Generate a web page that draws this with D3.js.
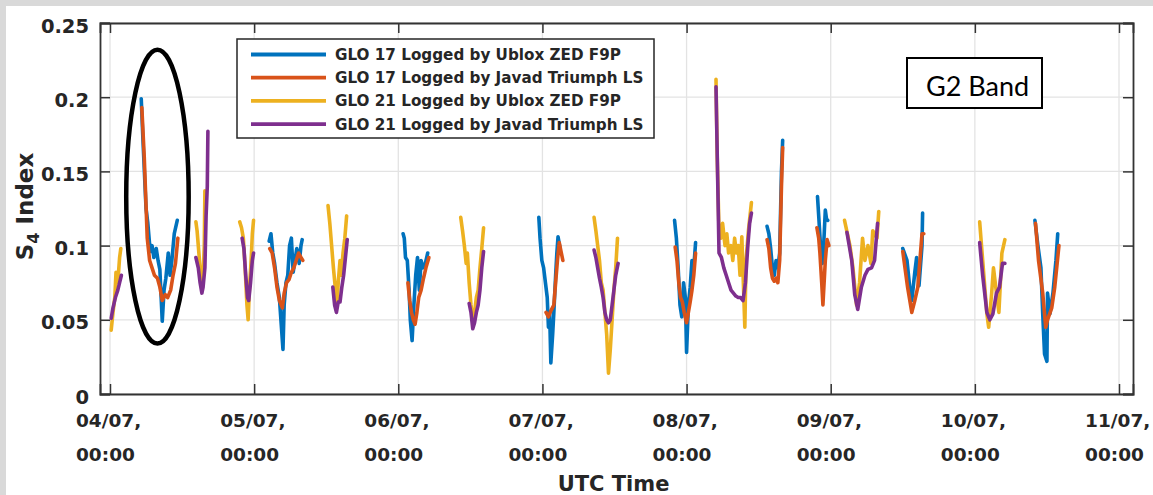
<!DOCTYPE html>
<html>
<head>
<meta charset="utf-8">
<script src="https://cdn.jsdelivr.net/npm/d3@7"></script>
<style>
  html, body { margin: 0; padding: 0; background: #d9d9d9; }
  svg { display: block; }
</style>
</head>
<body>
<svg id="chart" width="1153" height="495"></svg>
<script>
// S4 scintillation index, GLONASS G2 band, two satellites logged by two receivers.
// Each pass is a list of [hours since 04/07 00:00 UTC, S4].

const glo17Ublox = [
  [[5.2,.199],[5.5,.17],[6.0,.125],[6.3,.115],[6.7,.096],[7.0,.1],[7.3,.092],[7.7,.098],[8.0,.09],[8.3,.084],[8.7,.049],[9.0,.07],[9.3,.078],[9.7,.095],[10.0,.08],[10.3,.09],[10.7,.108],[11.2,.117]],
  [[26.5,.103],[26.8,.108],[27.1,.095],[27.4,.088],[27.8,.075],[28.2,.065],[28.8,.03],[29.0,.06],[29.3,.075],[29.6,.08],[29.9,.1],[30.2,.105],[30.5,.082],[30.8,.09],[31.1,.098],[31.5,.088],[31.8,.1],[32.0,.104]],
  [[48.8,.108],[49.0,.105],[49.2,.092],[49.5,.09],[49.8,.07],[50.0,.05],[50.3,.036],[50.6,.06],[50.9,.08],[51.2,.092],[51.5,.07],[51.8,.09],[52.1,.085],[52.5,.088],[52.9,.095]],
  [[71.4,.119],[71.6,.105],[71.9,.09],[72.2,.085],[72.5,.075],[72.8,.065],[73.0,.045],[73.2,.055],[73.4,.021],[73.7,.04],[73.9,.055],[74.2,.08],[74.4,.095],[74.6,.106],[74.9,.099]],
  [[94.0,.117],[94.3,.105],[94.6,.085],[94.9,.06],[95.2,.052],[95.5,.075],[95.8,.065],[96.0,.028],[96.3,.06],[96.6,.072],[96.9,.09],[97.2,.085],[97.5,.102]],
  [[109.4,.113],[109.7,.108],[110.0,.098],[110.3,.085],[110.6,.08],[110.9,.09],[111.2,.085],[111.5,.095],[111.8,.15],[112.0,.171]],
  [[117.8,.133],[118.0,.12],[118.3,.1],[118.6,.088],[118.8,.098],[119.1,.124],[119.3,.118],[119.5,.117]],
  [[132.0,.098],[132.7,.09],[133.2,.07],[133.5,.063],[134.0,.082],[134.3,.092],[134.7,.073],[135.2,.1],[135.3,.122]],
  [[154.0,.117],[154.5,.1],[155.0,.085],[155.3,.054],[155.6,.027],[156.0,.022],[156.1,.068],[156.5,.054],[157.0,.068],[157.5,.09],[157.8,.108]]
];

const glo17Javad = [
  [[5.3,.193],[5.7,.16],[6.2,.105],[6.6,.09],[7.0,.085],[7.4,.08],[7.9,.078],[8.3,.072],[8.7,.063],[9.2,.067],[9.6,.065],[10.1,.07],[10.5,.08],[10.9,.088],[11.3,.105]],
  [[26.6,.098],[27.0,.095],[27.4,.085],[27.8,.072],[28.2,.063],[28.7,.058],[29.0,.068],[29.4,.075],[29.8,.077],[30.2,.082],[30.6,.085],[31.0,.09],[31.4,.095],[31.8,.092],[32.1,.09]],
  [[49.6,.075],[49.9,.063],[50.2,.055],[50.5,.05],[50.8,.047],[51.1,.055],[51.4,.065],[51.8,.07],[52.2,.078],[52.6,.085],[53.1,.092]],
  [[72.6,.055],[73.0,.052],[73.4,.056],[73.9,.06],[74.2,.075],[74.5,.09],[74.8,.102],[75.1,.096],[75.4,.09]],
  [[94.1,.099],[94.4,.09],[94.7,.075],[95.0,.065],[95.3,.062],[95.6,.055],[96.0,.048],[96.3,.055],[96.6,.062],[96.9,.07],[97.2,.08],[97.5,.095]],
  [[109.4,.104],[109.7,.098],[110.0,.085],[110.3,.078],[110.6,.076],[110.9,.078],[111.2,.075],[111.5,.09],[111.8,.14],[112.0,.166]],
  [[117.7,.112],[118.0,.105],[118.2,.095],[118.5,.075],[118.7,.06],[118.9,.075],[119.1,.09],[119.4,.104],[119.7,.1]],
  [[132.0,.096],[132.8,.072],[133.5,.055],[134.0,.063],[134.5,.072],[135.2,.108],[135.5,.108]],
  [[154.1,.115],[154.6,.09],[155.3,.068],[155.8,.045],[156.1,.05],[156.8,.058],[157.3,.072],[158.0,.1]]
];

const glo21Ublox = [
  [[0.2,.043],[0.5,.055],[0.8,.065],[1.0,.082],[1.3,.075],[1.6,.092],[1.8,.098]],
  [[14.3,.116],[14.5,.11],[14.8,.095],[15.0,.085],[15.3,.072],[15.5,.078],[15.7,.1],[15.8,.137]],
  [[21.6,.116],[21.9,.112],[22.2,.105],[22.5,.085],[22.8,.06],[23.0,.05],[23.2,.07],[23.5,.09],[23.7,.108],[23.9,.117]],
  [[36.3,.127],[36.6,.115],[36.9,.1],[37.2,.085],[37.5,.072],[37.8,.06],[38.0,.075],[38.3,.09],[38.5,.08],[38.8,.095],[39.1,.105],[39.4,.12]],
  [[58.4,.119],[58.7,.11],[59.0,.1],[59.3,.088],[59.5,.095],[59.8,.075],[60.1,.06],[60.4,.05],[60.7,.055],[61.0,.065],[61.3,.07],[61.6,.085],[61.9,.098],[62.2,.112]],
  [[80.6,.119],[80.9,.11],[81.2,.1],[81.5,.09],[81.8,.075],[82.1,.07],[82.4,.055],[82.7,.04],[83.0,.014],[83.3,.03],[83.6,.05],[83.9,.07],[84.2,.085],[84.5,.105]],
  [[100.9,.212],[101.1,.16],[101.4,.11],[101.7,.105],[102.0,.115],[102.4,.1],[102.7,.108],[103.0,.095],[103.4,.1],[103.7,.09],[104.0,.105],[104.3,.095],[104.6,.1],[104.9,.08],[105.2,.106],[105.7,.045],[105.9,.09],[106.3,.11],[106.8,.129]],
  [[122.3,.117],[123.2,.1],[123.7,.085],[124.3,.06],[124.8,.075],[125.3,.105],[125.7,.09],[126.2,.1],[126.7,.088],[127.0,.11],[127.7,.105],[128.0,.123]],
  [[144.8,.116],[145.3,.09],[146.0,.054],[146.3,.045],[146.8,.068],[147.1,.085],[147.6,.068],[148.0,.055],[148.5,.095],[149.0,.104]]
];

const glo21Javad = [
  [[0.2,.051],[0.5,.058],[0.9,.065],[1.3,.07],[1.6,.075],[1.9,.08]],
  [[14.3,.092],[14.7,.085],[15.0,.075],[15.3,.068],[15.5,.072],[15.8,.085],[16.0,.12],[16.2,.14],[16.3,.177]],
  [[22.0,.105],[22.3,.098],[22.6,.08],[22.9,.065],[23.1,.063],[23.4,.075],[23.7,.09],[23.9,.095]],
  [[37.1,.072],[37.4,.06],[37.7,.055],[38.0,.062],[38.3,.062],[38.6,.072],[38.9,.08],[39.2,.092],[39.5,.104]],
  [[59.8,.061],[60.1,.055],[60.4,.044],[60.7,.048],[61.0,.055],[61.3,.06],[61.6,.07],[61.9,.085],[62.2,.096]],
  [[80.6,.097],[80.9,.092],[81.2,.085],[81.5,.078],[81.8,.072],[82.1,.065],[82.4,.055],[82.7,.05],[83.0,.048],[83.3,.05],[83.6,.06],[83.9,.07],[84.2,.08],[84.6,.088]],
  [[100.9,.207],[101.2,.14],[101.4,.095],[101.8,.092],[102.2,.085],[102.6,.08],[103.0,.075],[103.4,.07],[103.8,.068],[104.2,.066],[104.6,.065],[105.0,.065],[105.4,.063],[105.8,.075],[106.2,.1],[106.5,.115],[106.8,.122]],
  [[122.7,.109],[123.5,.09],[124.0,.067],[124.5,.057],[125.1,.072],[125.7,.08],[126.2,.084],[126.8,.085],[127.3,.09],[127.8,.115]],
  [[144.8,.102],[145.3,.08],[146.0,.055],[146.5,.05],[147.0,.054],[147.6,.068],[148.1,.072],[148.6,.088],[149.0,.088]]
];

const seriesNames = [
  "GLO 17 Logged by Ublox ZED F9P",
  "GLO 17 Logged by Javad Triumph LS",
  "GLO 21 Logged by Ublox ZED F9P",
  "GLO 21 Logged by Javad Triumph LS"
];
const seriesColors = ["#0072BD", "#D95319", "#EDB120", "#7E2F8E"];
const seriesData = [glo17Ublox, glo17Javad, glo21Ublox, glo21Javad];

const yTicks = [0, 0.05, 0.1, 0.15, 0.2, 0.25];
const dayTicks = ["2021-07-04", "2021-07-05", "2021-07-06", "2021-07-07", "2021-07-08", "2021-07-09", "2021-07-10", "2021-07-11"];
const timeOrigin = Date.UTC(2021, 6, 4);
const timeDomain = [-1.665, 170.33];   // hours relative to origin
const bandLabel = "G2 Band";

// highlighted region around the first GLO 17 pass, in data units
const highlight = { cx: 7.9, cy: 0.133, rxHours: 5.2, ryValue: 0.099 };

const toDate = h => new Date(timeOrigin + h * 3600e3);

const svg = d3.select("#chart");
const W = 1153, H = 495;
const margin = { left: 100, right: W - 1133, top: 23, bottom: H - 394 };
const plotW = W - margin.left - margin.right;
const plotH = H - margin.top - margin.bottom;

const axisColor = "#333333";
const tickFont = "'DejaVu Sans', 'Liberation Sans', sans-serif";

// white figure panel inside a grey frame
svg.append("rect").attr("x", 6).attr("y", 6).attr("width", W - 6).attr("height", H - 6).attr("fill", "#ffffff");

const x = d3.scaleUtc().domain(timeDomain.map(toDate)).range([margin.left, margin.left + plotW]);
const y = d3.scaleLinear().domain([0, 0.25]).range([margin.top + plotH, margin.top]);

const tickDates = dayTicks.map(s => new Date(s + "T00:00:00Z"));
const fmtDay = d3.utcFormat("%d/%m,");
const fmtTime = d3.utcFormat("%H:%M");

// grid
const grid = svg.append("g").attr("stroke", "#e3e3e3").attr("stroke-width", 1.3);
grid.selectAll("line.gx").data(tickDates).join("line")
  .attr("x1", d => x(d)).attr("x2", d => x(d))
  .attr("y1", margin.top).attr("y2", margin.top + plotH);
grid.selectAll("line.gy").data(yTicks).join("line")
  .attr("x1", margin.left).attr("x2", margin.left + plotW)
  .attr("y1", d => y(d)).attr("y2", d => y(d));

// series lines
const line = d3.line().x(d => x(toDate(d[0]))).y(d => y(d[1]));
const plotG = svg.append("g");
seriesData.forEach((passes, i) => {
  plotG.append("g")
    .selectAll("path").data(passes).join("path")
    .attr("d", line)
    .attr("fill", "none")
    .attr("stroke", seriesColors[i])
    .attr("stroke-width", 3.6)
    .attr("stroke-linejoin", "round")
    .attr("stroke-linecap", "round");
});

// axes: ticks point inward, box on all four sides
const tickLen = 10;
const bottomAxis = d3.axisBottom(x).tickValues(tickDates).tickSize(-tickLen).tickFormat("");
const topAxis = d3.axisTop(x).tickValues(tickDates).tickSize(-tickLen).tickFormat("");
const leftAxis = d3.axisLeft(y).tickValues(yTicks).tickSize(-tickLen).tickFormat("");
const rightAxis = d3.axisRight(y).tickValues(yTicks).tickSize(-tickLen).tickFormat("");

function styleAxis(g) {
  g.selectAll("path").attr("stroke", axisColor).attr("stroke-width", 1.8);
  g.selectAll("line").attr("stroke", axisColor).attr("stroke-width", 1.5);
}
svg.append("g").attr("transform", `translate(0,${margin.top + plotH})`).call(bottomAxis).call(styleAxis);
svg.append("g").attr("transform", `translate(0,${margin.top})`).call(topAxis).call(styleAxis);
svg.append("g").attr("transform", `translate(${margin.left},0)`).call(leftAxis).call(styleAxis);
svg.append("g").attr("transform", `translate(${margin.left + plotW},0)`).call(rightAxis).call(styleAxis);

// y tick labels
svg.append("g").selectAll("text").data(yTicks).join("text")
  .attr("x", margin.left - 11)
  .attr("y", d => y(d) + 9.5)
  .attr("text-anchor", "end")
  .attr("font-family", tickFont).attr("font-weight", "bold").attr("font-size", 19.5)
  .attr("fill", "#262626")
  .text(d => d === 0 ? "0" : d3.format("")(d));

// x tick labels, two lines
const xl = svg.append("g").selectAll("g").data(tickDates).join("g")
  .attr("transform", d => `translate(${x(d) - 34},0)`)
  .attr("font-family", tickFont).attr("font-weight", "bold").attr("font-size", 18.5)
  .attr("fill", "#262626");
xl.append("text").attr("y", 427).text(d => fmtDay(d));
xl.append("text").attr("y", 461).text(d => fmtTime(d));

// axis titles
svg.append("text")
  .attr("x", margin.left + plotW / 2 - 3).attr("y", 491)
  .attr("text-anchor", "middle")
  .attr("font-family", tickFont).attr("font-weight", "bold").attr("font-size", 21)
  .attr("fill", "#262626")
  .text("UTC Time");

const yTitle = svg.append("text")
  .attr("transform", `translate(33,${margin.top + plotH / 2 - 2}) rotate(-90)`)
  .attr("text-anchor", "middle")
  .attr("font-family", tickFont).attr("font-weight", "bold").attr("font-size", 23)
  .attr("fill", "#262626");
yTitle.append("tspan").text("S");
yTitle.append("tspan").attr("font-size", 16).attr("dy", 6).text("4");
yTitle.append("tspan").attr("dy", -6).text(" Index");

// legend
const legend = svg.append("g");
legend.append("rect")
  .attr("x", 237).attr("y", 39).attr("width", 417).attr("height", 99)
  .attr("fill", "#ffffff").attr("stroke", "#262626").attr("stroke-width", 1.5);
const rows = legend.selectAll("g.row").data(seriesNames).join("g")
  .attr("transform", (d, i) => `translate(0,${54.5 + i * 23.2})`);
rows.append("line")
  .attr("x1", 251).attr("x2", 326).attr("y1", 0).attr("y2", 0)
  .attr("stroke", (d, i) => seriesColors[i]).attr("stroke-width", 3.8);
rows.append("text")
  .attr("x", 335).attr("y", 5.5)
  .attr("font-family", tickFont).attr("font-weight", "bold").attr("font-size", 15.2)
  .attr("fill", "#262626")
  .text(d => d);

// band label
svg.append("rect")
  .attr("x", 907).attr("y", 58).attr("width", 135).attr("height", 50)
  .attr("fill", "#ffffff").attr("stroke", "#000000").attr("stroke-width", 2);
svg.append("text")
  .attr("x", 926).attr("y", 96)
  .attr("font-family", "Lato, 'Open Sans', sans-serif").attr("font-size", 27)
  .attr("fill", "#000000")
  .text(bandLabel);

// highlight ellipse
const cxPix = x(toDate(highlight.cx));
svg.append("ellipse")
  .attr("cx", cxPix)
  .attr("cy", y(highlight.cy))
  .attr("rx", x(toDate(highlight.cx + highlight.rxHours)) - cxPix)
  .attr("ry", y(0) - y(highlight.ryValue))
  .attr("fill", "none").attr("stroke", "#000000").attr("stroke-width", 4.5);
</script>
</body>
</html>
